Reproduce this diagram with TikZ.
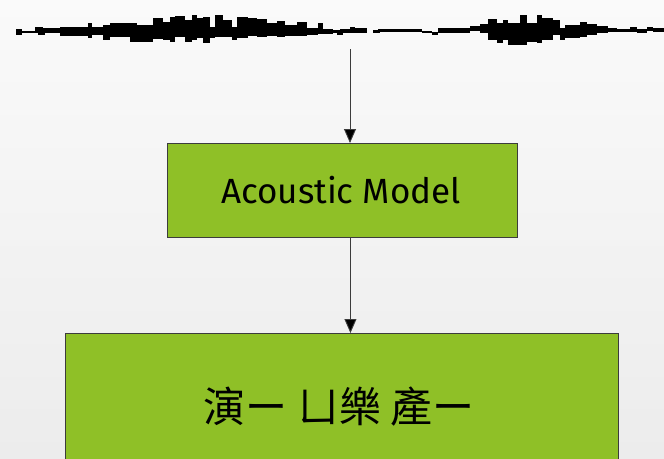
\documentclass[tikz,border=0pt]{standalone}
\usepackage{fontspec}
\setmainfont{Fira Sans}
\newfontfamily\cjkfont{Noto Sans CJK TC}
\usetikzlibrary{arrows.meta}
\definecolor{bgtop}{RGB}{250,250,250}
\definecolor{bgbot}{RGB}{236,236,236}
\definecolor{boxgreen}{RGB}{143,192,39}
\definecolor{edgegray}{RGB}{60,60,60}
\tikzset{
  greenbox/.style={draw=edgegray, line width=0.9pt, fill=boxgreen, inner sep=0pt, anchor=north west},
  flowarrow/.style={draw=edgegray, line width=0.9pt, -{Triangle[width=12pt,length=14pt,fill=black]}},
  wave/.style={fill=black}
}
\begin{document}
\begin{tikzpicture}[x=1pt,y=-1pt]
\useasboundingbox (0,0) rectangle (664,458);
\clip (0,0) rectangle (664,458);
\shade[top color=bgtop, bottom color=bgbot] (0,0) rectangle (664,458);
% waveform
\foreach \a/\b/\t/\u in {
16/22/29/35, 22/40/30.5/33, 35/43/27/33, 38/45/30/35, 43/60/28/33, 60/90/27/36, 88/92/23/38,
90/107/27/35, 103/110/25/40, 110/130/23/37, 130/137/23/42, 137/153/25/42, 153/163/18/39,
163/170/22/40, 170/175/17/42, 175/185/16/37, 185/192/20/42, 192/197/15/40, 197/203/18/38,
203/210/17/43, 210/215/27/38, 215/223/15/37, 223/232/20/37, 232/237/27/40, 237/248/17/38,
248/257/18/36, 257/267/19/37, 267/277/23/36, 277/285/21/37, 285/297/25/36, 297/307/22/36,
307/318/28/35, 318/323/23/34, 323/333/29/34, 333/340/30/33, 337/343/30/35, 340/350/29/33,
350/355/27/33, 355/367/28/33,
373/380/30/33, 378/422/29/32, 422/432/31/33, 432/438/32/35, 438/470/28/33, 470/480/26/31,
480/488/24/33, 488/497/19/40, 497/503/23/43, 503/508/20/40, 508/520/23/45, 510/520/25/43,
520/527/15/45, 527/537/23/42, 537/542/15/43, 542/553/18/40, 553/560/20/35, 560/565/28/40,
565/580/25/38, 580/587/22/37, 587/597/24/35, 597/608/26/33, 608/617/28/32, 617/630/29/32,
630/637/27/32, 637/647/29/33, 647/653/27/31, 653/664/28/32}
  \fill[wave] (\a,\t) rectangle (\b,\u);
\coordinate (wavebot) at (350,49);
% boxes
\node[greenbox, minimum width=350pt, minimum height=94pt] (am) at (167,143) {};
\node[font=\fontsize{35}{40}\selectfont] (amtext) at (341,190) {Acoustic Model};
\node[greenbox, minimum width=553pt, minimum height=150pt] (out) at (65,333) {};
\node[font=\cjkfont\fontsize{42}{48}\selectfont] (outtext) at (339,407) {演ー ㄩ樂 產ー};
% arrows
\draw[flowarrow] (wavebot) -- (wavebot |- am.north);
\draw[flowarrow] ([xshift=8pt]am.south) -- ([xshift=8pt]am.south |- out.north);
\end{tikzpicture}
\end{document}
